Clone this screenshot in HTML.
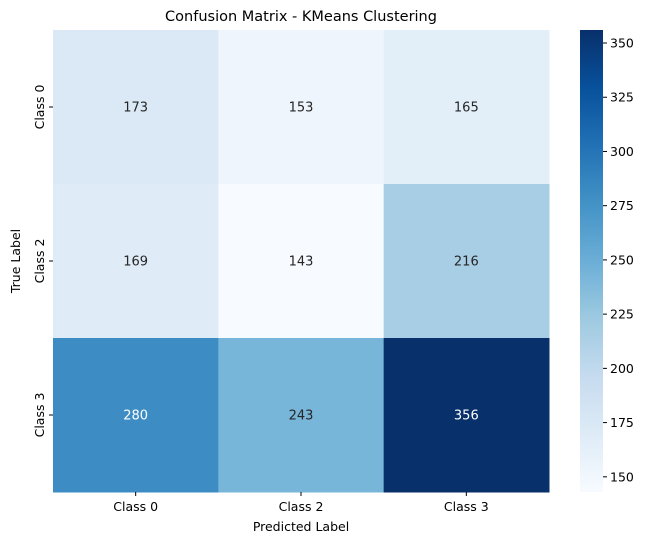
<!DOCTYPE html>
<html><head><meta charset="utf-8"><style>
body{margin:0;background:#fff;font-family:"Liberation Sans","DejaVu Sans",sans-serif;}
svg text{font-family:"DejaVu Sans","Liberation Sans",sans-serif;}
</style></head><body>
<svg id="chart" width="649" height="545" xmlns="http://www.w3.org/2000/svg"></svg>
<script>
const xLabels = ["Class 0","Class 2","Class 3"];
const yLabels = ["Class 0","Class 2","Class 3"];
const row0 = [173,153,165];
const row1 = [169,143,216];
const row2 = [280,243,356];
const cbTicks = [150,175,200,225,250,275,300,325,350];
const rows = [row0,row1,row2];
const vmin = 143, vmax = 356;
const L=53,R=549,T=30,B=492;
const cbL=580,cbR=603;
const svg=document.getElementById('chart');
const NS='http://www.w3.org/2000/svg';
function mk(t,a,txt){const e=document.createElementNS(NS,t);for(const k in a)e.setAttribute(k,a[k]);if(txt!=null)e.textContent=txt;svg.appendChild(e);return e;}
const blues=['#f7fbff','#deebf7','#c6dbef','#9ecae1','#6baed6','#4292c6','#2171b5','#08519c','#08306b'];
function hex(h){return [1,3,5].map(i=>parseInt(h.substr(i,2),16));}
function color(v){let t=Math.max(0,Math.min(1,(v-vmin)/(vmax-vmin)))*(blues.length-1);let i=Math.min(Math.floor(t),blues.length-2),f=t-i;const a=hex(blues[i]),b=hex(blues[i+1]);return 'rgb('+a.map((x,k)=>Math.round(x+(b[k]-x)*f)).join(',')+')';}
const cw=(R-L)/xLabels.length, ch=(B-T)/yLabels.length;
const xs=i=>L+i*cw, ys=j=>T+j*ch;
mk('text',{x:(L+R)/2,y:21,'text-anchor':'middle','font-size':14.5,fill:'#000',},'Confusion Matrix - KMeans Clustering');
rows.forEach((r,j)=>r.forEach((v,i)=>{
  const c=mk('rect',{x:xs(i),y:ys(j),width:cw+0.5,height:ch+0.5,fill:color(v)});
  
  
  const t=mk('text',{x:xs(i)+cw/2,y:ys(j)+ch/2+4.5,'text-anchor':'middle','font-size':13,fill:(v-vmin)/(vmax-vmin)>0.5?'#fff':'#262626'},String(v));
  
  
}));
xLabels.forEach((l,i)=>{const cx=xs(i)+cw/2;mk('line',{x1:cx,x2:cx,y1:B,y2:B+4,stroke:'#000'});
  const t=mk('text',{x:cx,y:B+19,'text-anchor':'middle','font-size':12.5,fill:'#000'},l);
  
  });
yLabels.forEach((l,j)=>{const cy=ys(j)+ch/2;mk('line',{x1:L-4,x2:L,y1:cy,y2:cy,stroke:'#000'});
  const t=mk('text',{x:0,y:0,'text-anchor':'middle','font-size':12.5,fill:'#000',transform:'translate('+(L-9)+','+cy+') rotate(-90)'},l);
  
  });
mk('text',{x:(L+R)/2,y:531,'text-anchor':'middle','font-size':12.5,fill:'#000',},'Predicted Label');
mk('text',{x:0,y:0,'text-anchor':'middle','font-size':12.5,fill:'#000',transform:'translate(20,'+(T+B)/2+') rotate(-90)',},'True Label');
// colorbar
const cbY=v=>B-(v-vmin)/(vmax-vmin)*(B-T);
const g=mk('defs',{});
const lg=document.createElementNS(NS,'linearGradient');lg.setAttribute('id','cbg');lg.setAttribute('x1','0');lg.setAttribute('y1','1');lg.setAttribute('x2','0');lg.setAttribute('y2','0');g.appendChild(lg);
blues.forEach((c,i)=>{const s=document.createElementNS(NS,'stop');s.setAttribute('offset',i/(blues.length-1));s.setAttribute('stop-color',c);lg.appendChild(s);});
mk('rect',{x:cbL,y:T,width:cbR-cbL,height:B-T,fill:'url(#cbg)',});
cbTicks.forEach(v=>{const y=cbY(v);mk('line',{x1:cbR,x2:cbR+4,y1:y,y2:y,stroke:'#000'});
  const t=mk('text',{x:cbR+7,y:y+4.5,'font-size':12.5,fill:'#000'},String(v));
  
  });
</script>
</body></html>
